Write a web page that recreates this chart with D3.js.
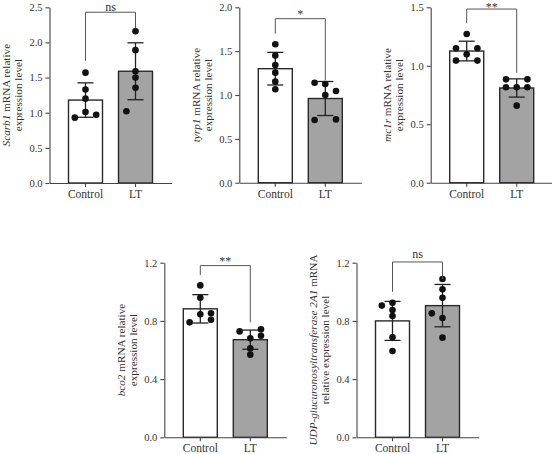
<!DOCTYPE html>
<html>
<head>
<meta charset="utf-8">
<script src="https://cdn.jsdelivr.net/npm/d3@7"></script>
<style>
  body { margin: 0; background: #fff; }
  svg text { font-family: "Liberation Serif", "Times New Roman", serif; fill: #333; }
</style>
</head>
<body>
<svg width="552" height="454"></svg>
<script>
// groups and genes
var groups = ["Control", "LT"];
var genes = ["Scarb1", "tyrp1", "mc1r", "bco2", "UDP-glucuronosyltransferase 2A1"];
var labelRest = [" mRNA relative", " mRNA relative", " mRNA relative", " mRNA relative", " mRNA"];
var labelLine2 = ["expression level", "expression level", "expression level", "expression level", "relative expression level"];

// y axis max and tick step per panel
var yMax = [2.5, 2.0, 1.5, 1.2, 1.2];
var yStep = [0.5, 0.5, 0.5, 0.4, 0.4];

// mean and SD (Control, LT)
var means = [[1.18, 1.59], [1.30, 0.96], [1.126, 0.81], [0.883, 0.671], [0.80, 0.905]];
var sds = [[0.245, 0.405], [0.186, 0.194], [0.084, 0.078], [0.0975, 0.066], [0.134, 0.1455]];

// individual samples (Control, LT)
var points = [
  [[1.57, 1.33, 1.20, 1.01, 0.93, 0.97], [2.16, 1.89, 1.59, 1.50, 1.355, 1.02]],
  [[1.578, 1.449, 1.342, 1.255, 1.152, 1.065], [1.14, 1.125, 1.046, 1.0, 0.715, 0.722]],
  [[1.272, 1.15, 1.15, 1.098, 1.044, 1.044], [0.884, 0.884, 0.816, 0.816, 0.816, 0.659]],
  [[1.044, 0.959, 0.845, 0.852, 0.79, 0.808], [0.728, 0.742, 0.698, 0.68, 0.611, 0.568]],
  [[0.905, 0.925, 0.875, 0.834, 0.687, 0.593], [1.088, 1.017, 0.959, 0.852, 0.82, 0.685]]
];
// which side of the bar centre each dot sits (-1 left, 0 centre, 1 right)
var sides = [
  [[0, 0, 0, 0, -1, 1], [0, 0, 0, 0, 0, -0.85]],
  [[0, 0, 0, 0, 0, 0], [-1, 0, 1, 0, -1, 1]],
  [[0, -1, 1, 0, -1, 1], [-1, 1, -1, 0, 1, 0]],
  [[0, 0, 0, 1, -1, 1], [-1, 1, 1, 0, 0, 0]],
  [[-1, 0, 0, 0, 0, 0], [0, 0, 0, -1, 0, 0]]
];

// significance brackets
var sigText = ["ns", "*", "**", "**", "ns"];
var sigTop = [2.43, 1.87, 1.485, 1.18, 1.205];
var sigLeft = [1.74, 1.70, 1.364, 1.115, 1.0];
var sigRight = [2.20, 1.17, 0.94, 0.79, 1.088];

// panel placement in the picture
var layout = [
  {x: 49.5, top: 7.3, bottom: 183},
  {x: 239.3, top: 7.3, bottom: 182.7},
  {x: 430.7, top: 7.3, bottom: 182.7},
  {x: 164.3, top: 262.7, bottom: 437.3},
  {x: 356.5, top: 262.7, bottom: 437.3}
];
var fills = ["#ffffff", "#a3a3a3"];
var serif = "'Liberation Serif', 'Times New Roman', serif";

var svg = d3.select("svg");

layout.forEach(function(L, i) {
  var g = svg.append("g");

  var x = d3.scaleBand()
    .domain(groups)
    .range([L.x, L.x + 122])
    .paddingInner(0.32)
    .paddingOuter(0.38);

  var y = d3.scaleLinear()
    .domain([0, yMax[i]])
    .range([L.bottom, L.top]);

  // bars
  g.selectAll(".bar")
    .data(groups)
    .enter().append("rect")
    .attr("x", function(d) { return x(d); })
    .attr("y", function(d, j) { return y(means[i][j]); })
    .attr("width", x.bandwidth())
    .attr("height", function(d, j) { return L.bottom - y(means[i][j]); })
    .attr("fill", function(d, j) { return fills[j]; })
    .attr("stroke", "#2a2a2a")
    .attr("stroke-width", 1.4);

  // axes
  var yAxis = g.append("g")
    .attr("transform", "translate(" + L.x + ",0)")
    .call(d3.axisLeft(y)
      .tickValues(d3.range(0, yMax[i] + 1e-9, yStep[i]))
      .tickFormat(d3.format(".1f"))
      .tickSize(4)
      .tickSizeOuter(0));
  var xAxis = g.append("g")
    .attr("transform", "translate(0," + L.bottom + ")")
    .call(d3.axisBottom(x).tickSize(4).tickSizeOuter(0));

  [yAxis, xAxis].forEach(function(a) {
    a.attr("font-family", serif);
    a.selectAll("path, line").attr("stroke", "#444").attr("stroke-width", 1.1);
    a.selectAll("text").attr("fill", "#333");
  });
  yAxis.attr("font-size", 10.5);
  xAxis.attr("font-size", 11.5);

  // error bars
  groups.forEach(function(grp, j) {
    var cx = x(grp) + x.bandwidth() / 2;
    var lo = y(means[i][j] - sds[i][j]), hi = y(means[i][j] + sds[i][j]);
    g.append("line").attr("x1", cx).attr("x2", cx).attr("y1", lo).attr("y2", hi)
      .attr("stroke", "#222").attr("stroke-width", 1.3);
    [lo, hi].forEach(function(yy) {
      g.append("line").attr("x1", cx - 8).attr("x2", cx + 8).attr("y1", yy).attr("y2", yy)
        .attr("stroke", "#222").attr("stroke-width", 1.3);
    });

    // dots
    g.selectAll(".dot" + j)
      .data(points[i][j])
      .enter().append("circle")
      .attr("cx", function(d, k) { return cx + sides[i][j][k] * 10.7; })
      .attr("cy", function(d) { return y(d); })
      .attr("r", 3.3)
      .attr("fill", "#111");
  });

  // significance bracket
  var c0 = x(groups[0]) + x.bandwidth() / 2, c1 = x(groups[1]) + x.bandwidth() / 2;
  g.append("path")
    .attr("d", "M" + c0 + "," + y(sigLeft[i]) + "V" + y(sigTop[i]) + "H" + c1 + "V" + y(sigRight[i]))
    .attr("fill", "none")
    .attr("stroke", "#555")
    .attr("stroke-width", 1);
  // keep the mark inside the picture when the bracket is near the top edge
  var ty = Math.max(y(sigTop[i]) - (sigText[i] === "ns" ? 4 : 0.5), 11);
  g.append("text")
    .attr("x", (c0 + c1) / 2)
    .attr("y", ty)
    .attr("text-anchor", "middle")
    .attr("font-size", 12)
    .attr("fill", "#444")
    .text(sigText[i]);

  // y label, two lines
  var midY = (L.top + L.bottom) / 2;
  var lab = g.append("text")
    .attr("transform", "translate(" + (L.x - 39.5) + "," + midY + ") rotate(-90)")
    .attr("text-anchor", "middle")
    .attr("font-size", 11.2);
  var t1 = lab.append("tspan").attr("x", 0).attr("y", 0);
  t1.append("tspan").attr("font-style", "italic").text(genes[i]);
  t1.append("tspan").text(labelRest[i]);
  lab.append("tspan").attr("x", 0).attr("y", 12).text(labelLine2[i]);
});
</script>
</body>
</html>
